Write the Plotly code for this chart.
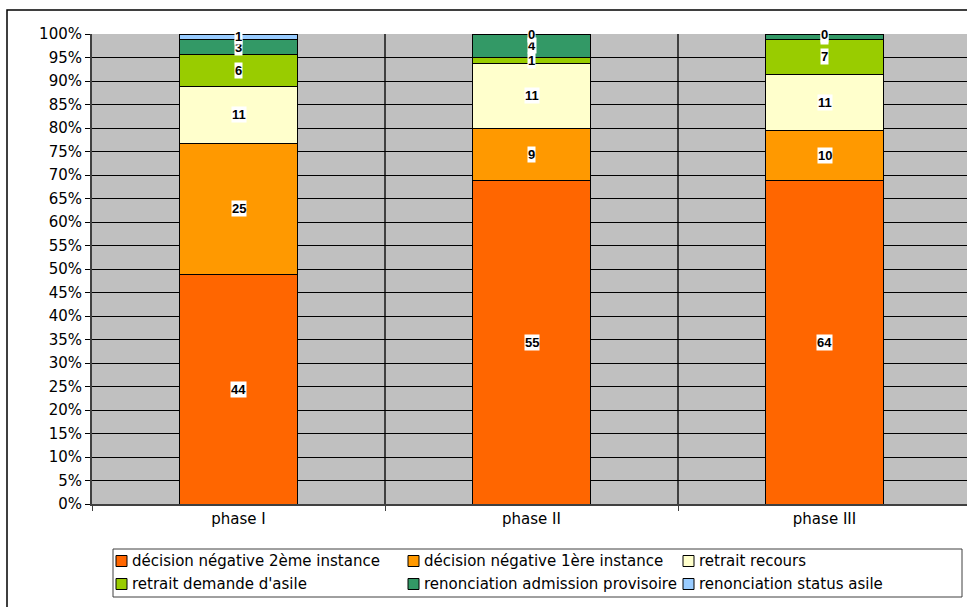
import plotly.graph_objects as go

categories = ["phase I", "phase II", "phase III"]
series_names = [
    "décision négative 2ème instance",
    "décision négative 1ère instance",
    "retrait recours",
    "retrait demande d'asile",
    "renonciation admission provisoire",
    "renonciation status asile",
]
series_values = [
    [44, 55, 64],
    [25, 9, 10],
    [11, 11, 11],
    [6, 1, 7],
    [3, 4, 1],
    [1, 0, 0],
]
colors = ["#FF6600", "#FF9900", "#FFFFCC", "#99CC00", "#339966", "#99CCFF"]
y_ticks = list(range(0, 101, 5))

FONT = "DejaVu Sans"
W, H = 967, 607
ML, MR, MT, MB = 92, 0, 34, 103
PW, PH = W - ML - MR, H - MT - MB


def px_x(px):
    return (px - ML) / PW


def px_y(py):
    return (H - MB - py) / PH


fig = go.Figure()
for name, vals, col in zip(series_names, series_values, colors):
    fig.add_trace(go.Bar(
        x=categories, y=vals, name=name,
        marker=dict(color=col, line=dict(color="black", width=1)),
        width=0.4, hoverinfo="skip",
    ))

# data labels at segment middles (percent)
totals = [sum(s[i] for s in series_values) for i in range(len(categories))]
for i, cat in enumerate(categories):
    cum = 0.0
    for s in series_values:
        v = s[i]
        pct = 100.0 * v / totals[i]
        fig.add_annotation(
            x=cat, y=cum + pct / 2, text=str(v), showarrow=False,
            font=dict(family="Liberation Sans", size=13, color="black", weight="bold"),
            bgcolor="white", borderpad=0, xref="x", yref="y",
        )
        cum += pct

fig.update_layout(
    barmode="stack", barnorm="percent",
    width=W, height=H,
    margin=dict(l=ML, r=MR, t=MT, b=MB),
    paper_bgcolor="white", plot_bgcolor="#C0C0C0",
    font=dict(family=FONT, size=15, color="black"),
    showlegend=False,
    xaxis=dict(
        range=[-0.5, -0.5 + PW / 293], tickson="boundaries", ticks="outside",
        ticklen=5, tickcolor="#404040", showgrid=True, gridcolor="#404040", gridwidth=2,
        showline=True, linecolor="#404040", linewidth=2, tickfont=dict(size=15),
        fixedrange=True, automargin=False,
    ),
    yaxis=dict(
        range=[0, 100], tickvals=y_ticks, ticktext=[f"{t}%" for t in y_ticks],
        ticks="outside", ticklen=5, tickcolor="black",
        showgrid=True, gridcolor="black", gridwidth=1,
        showline=True, linecolor="#404040", linewidth=2, zeroline=False,
        tickfont=dict(size=15), fixedrange=True, automargin=False,
    ),
)

# outer chart-area border
fig.add_shape(type="rect", xref="paper", yref="paper",
              x0=px_x(7), x1=1.05, y0=-0.3, y1=px_y(10),
              line=dict(color="black", width=1.5), fillcolor="rgba(0,0,0,0)", layer="below")

# legend (drawn manually: 2 rows x 3 columns inside a box)
fig.add_shape(type="rect", xref="paper", yref="paper",
              x0=px_x(113), x1=px_x(962), y0=px_y(597), y1=px_y(549),
              line=dict(color="#404040", width=1), fillcolor="white")
col_left = [116, 408, 683]
row_mid = [561, 584]
sq = 11
for k, (name, col) in enumerate(zip(series_names, colors)):
    cx = col_left[k % 3]
    cy = row_mid[k // 3]
    fig.add_shape(type="rect", xref="paper", yref="paper",
                  x0=px_x(cx), x1=px_x(cx + sq), y0=px_y(cy + sq / 2), y1=px_y(cy - sq / 2),
                  line=dict(color="black", width=1), fillcolor=col)
    fig.add_annotation(x=px_x(cx + sq + 3), y=px_y(cy), xref="paper", yref="paper",
                       text=name, showarrow=False, xanchor="left", yanchor="middle",
                       font=dict(family=FONT, size=15, color="black"))

fig.write_html("out.html")
